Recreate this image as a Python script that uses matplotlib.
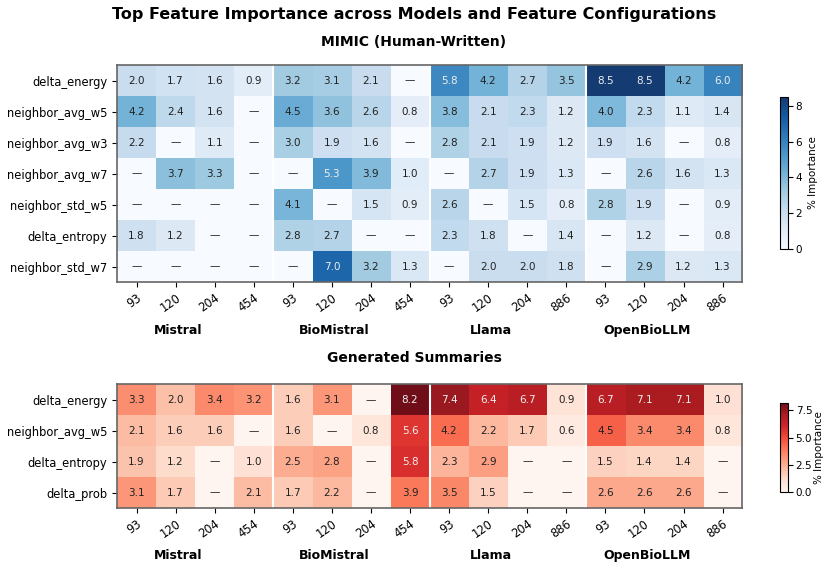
import numpy as np
import matplotlib
matplotlib.use("Agg")
import matplotlib.pyplot as plt

nan = np.nan

# column labels (feature configs) and model groups
cols = ["93", "120", "204", "454",
        "93", "120", "204", "454",
        "93", "120", "204", "886",
        "93", "120", "204", "886"]
models = ["Mistral", "BioMistral", "Llama", "OpenBioLLM"]

# MIMIC (human-written)
mimic_rows = ["delta_energy", "neighbor_avg_w5", "neighbor_avg_w3", "neighbor_avg_w7",
              "neighbor_std_w5", "delta_entropy", "neighbor_std_w7"]
mimic_vals = np.array([
    [2.0, 1.7, 1.6, 0.9, 3.2, 3.1, 2.1, nan, 5.8, 4.2, 2.7, 3.5, 8.5, 8.5, 4.2, 6.0],
    [4.2, 2.4, 1.6, nan, 4.5, 3.6, 2.6, 0.8, 3.8, 2.1, 2.3, 1.2, 4.0, 2.3, 1.1, 1.4],
    [2.2, nan, 1.1, nan, 3.0, 1.9, 1.6, nan, 2.8, 2.1, 1.9, 1.2, 1.9, 1.6, nan, 0.8],
    [nan, 3.7, 3.3, nan, nan, 5.3, 3.9, 1.0, nan, 2.7, 1.9, 1.3, nan, 2.6, 1.6, 1.3],
    [nan, nan, nan, nan, 4.1, nan, 1.5, 0.9, 2.6, nan, 1.5, 0.8, 2.8, 1.9, nan, 0.9],
    [1.8, 1.2, nan, nan, 2.8, 2.7, nan, nan, 2.3, 1.8, nan, 1.4, nan, 1.2, nan, 0.8],
    [nan, nan, nan, nan, nan, 7.0, 3.2, 1.3, nan, 2.0, 2.0, 1.8, nan, 2.9, 1.2, 1.3],
])

# generated summaries
gen_rows = ["delta_energy", "neighbor_avg_w5", "delta_entropy", "delta_prob"]
gen_vals = np.array([
    [3.3, 2.0, 3.4, 3.2, 1.6, 3.1, nan, 8.2, 7.4, 6.4, 6.7, 0.9, 6.7, 7.1, 7.1, 1.0],
    [2.1, 1.6, 1.6, nan, 1.6, nan, 0.8, 5.6, 4.2, 2.2, 1.7, 0.6, 4.5, 3.4, 3.4, 0.8],
    [1.9, 1.2, nan, 1.0, 2.5, 2.8, nan, 5.8, 2.3, 2.9, nan, nan, 1.5, 1.4, 1.4, nan],
    [3.1, 1.7, nan, 2.1, 1.7, 2.2, nan, 3.9, 3.5, 1.5, nan, nan, 2.6, 2.6, 2.6, nan],
])


def draw_heat(ax, cax, vals, rows, cmap, cticks, ctlabels, lpad):
    data = np.nan_to_num(vals, nan=0.0)
    vmax = np.nanmax(vals)
    im = ax.imshow(data, cmap=cmap, vmin=0, vmax=vmax, aspect="auto", alpha=0.95)
    for i in range(vals.shape[0]):
        for j in range(vals.shape[1]):
            v = vals[i, j]
            if np.isnan(v):
                txt, c = "\u2014", "#222222"
            else:
                txt = f"{v:.1f}"
                c = "#eeeeee" if v > 0.6 * vmax else "#222222"
            ax.text(j, i, txt, ha="center", va="center", fontsize=7.5, color=c)
    for x in [3.5, 7.5, 11.5]:
        ax.axvline(x, color="white", lw=1.5)
    ax.set_xticks(range(len(cols)))
    ax.set_xticklabels(cols, rotation=35, ha="right", rotation_mode="anchor", fontsize=8.3)
    ax.set_yticks(range(len(rows)))
    ax.set_yticklabels(rows, fontsize=8.3)
    for s in ax.spines.values():
        s.set_color("#666666")
        s.set_linewidth(1.2)
    cb = plt.colorbar(im, cax=cax, ticks=cticks)
    cb.ax.set_yticklabels(ctlabels)
    cb.set_label("% Importance", fontsize=7.5, labelpad=lpad)
    cb.ax.tick_params(labelsize=7.5, pad=2)
    cb.outline.set_linewidth(0.8)
    return im


fig = plt.figure(figsize=(8.28, 5.68), dpi=100)

ax1 = fig.add_axes([0.1413, 0.5035, 0.755, 0.382])
cax1 = fig.add_axes([0.942, 0.5616, 0.0097, 0.2676])
draw_heat(ax1, cax1, mimic_vals, mimic_rows, "Blues",
          [0, 2, 4, 6, 8], ["0", "2", "4", "6", "8"], 4)

ax2 = fig.add_axes([0.1413, 0.1056, 0.755, 0.218])
cax2 = fig.add_axes([0.942, 0.1338, 0.0097, 0.157])
draw_heat(ax2, cax2, gen_vals, gen_rows, "Reds",
          [0.0, 2.5, 5.0, 7.5], ["0.0", "2.5", "5.0", "7.5"], 1)

for g, m in enumerate(models):
    ax1.text(4 * g + 1.06, 8.05, m, ha="center", va="center", fontsize=9, fontweight="bold")
    ax2.text(4 * g + 1.06, 5.02, m, ha="center", va="center", fontsize=9, fontweight="bold")

fig.text(0.5, 0.974, "Top Feature Importance across Models and Feature Configurations",
         ha="center", va="center", fontsize=11.5, fontweight="bold")
fig.text(0.5, 0.926, "MIMIC (Human-Written)", ha="center", va="center",
         fontsize=10, fontweight="bold")
fig.text(0.5, 0.370, "Generated Summaries", ha="center", va="center",
         fontsize=10, fontweight="bold")

fig.savefig("out.png", dpi=100)
